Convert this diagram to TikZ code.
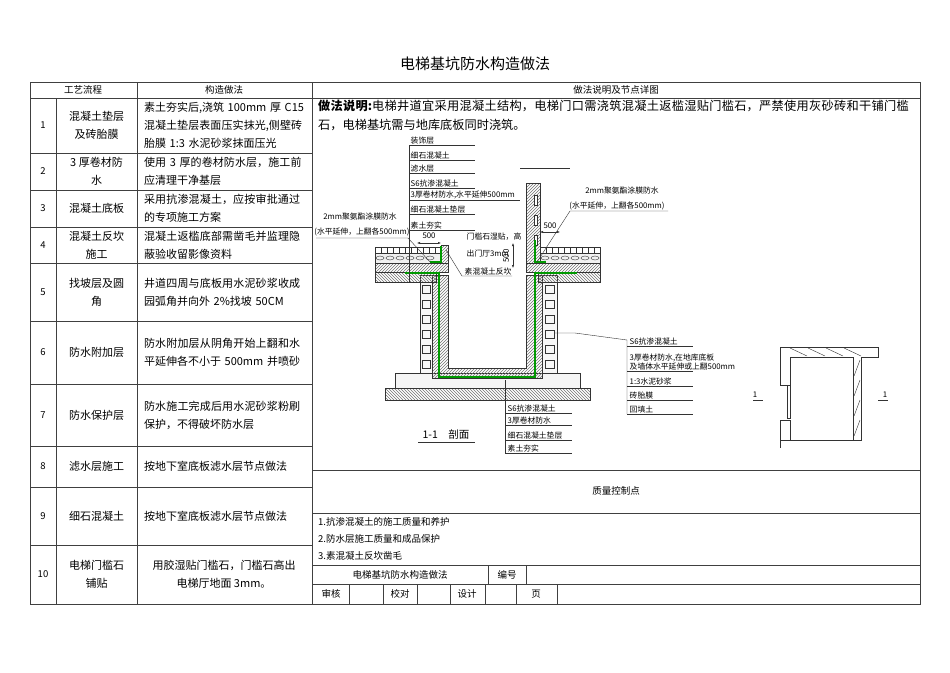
\documentclass[tikz,border=0pt]{standalone}
\usepackage{fontspec}
\setmainfont{Liberation Serif}
\newfontfamily\cjk{Noto Sans CJK SC}
\XeTeXlinebreaklocale "zh"
\XeTeXlinebreakskip=0pt plus 1pt
\usetikzlibrary{patterns,arrows.meta}
\begin{document}
\begin{tikzpicture}[x=1pt,y=-1pt,
  grid/.style={draw=black!75,line width=0.6pt},
  cell/.style={font=\cjk\fontsize{11}{18}\selectfont,align=center,inner sep=1pt},
  lcell/.style={font=\cjk\fontsize{11}{18}\selectfont,align=left,inner sep=1pt,text width=#1},
  small/.style={font=\cjk\fontsize{9.5}{18}\selectfont,inner sep=1pt},
  cad/.style={font=\cjk\fontsize{7.8}{9.5}\selectfont,inner sep=0.5pt},
  cl/.style={draw=black!80,line width=0.4pt},
  wp/.style={draw=green!60!black,line width=1.6pt},
  conc/.style={cl,pattern=north east lines,pattern color=black!55},
  earth/.style={cl,pattern=north west lines,pattern color=black!55},
  dims/.style={cl,{Latex[length=3pt]}-{Latex[length=3pt]}}]
\useasboundingbox (0,0) rectangle (950,672);
\fill[white] (0,0) rectangle (950,672);
\node[font=\cjk\fontsize{15}{18}\selectfont] (title) at (475,64) {电梯基坑防水构造做法};
% table grid
\draw[grid] (30,82) rectangle (920,604);
\draw[grid] (30,98) -- (920,98);
\draw[grid] (137,82) -- (137,604);
\draw[grid] (312,82) -- (312,604);
\draw[grid] (56,98) -- (56,604);
\foreach \y in {153,190,227,263,321,384,446,487,545} \draw[grid] (30,\y) -- (312,\y);
\draw[grid] (312,470) -- (920,470);
\draw[grid] (312,513) -- (920,513);
\draw[grid] (312,565) -- (920,565);
\draw[grid] (312,584) -- (920,584);
\draw[grid] (488,565) -- (488,584);
\draw[grid] (526,565) -- (526,584);
\foreach \x in {349,383,417,450,485,516,557} \draw[grid] (\x,584) -- (\x,604);
% headers
\node[small] (h1) at (83,90) {工艺流程};
\node[small] (h2) at (224,90) {构造做法};
\node[small] (h3) at (616,90) {做法说明及节点详图};
% rows
\foreach \n/\a/\b/\t/\c in {1/98/153/{混凝土垫层\\及砖胎膜}/{素土夯实后,浇筑 100mm 厚 C15 混凝土垫层表面压实抹光,侧壁砖胎膜 1:3 水泥砂浆抹面压光},
  2/153/190/{3 厚卷材防\\水}/{使用 3 厚的卷材防水层，施工前应清理干净基层},
  3/190/227/{混凝土底板}/{采用抗渗混凝土，应按审批通过的专项施工方案},
  4/227/263/{混凝土反坎\\施工}/{混凝土返槛底部需凿毛并监理隐蔽验收留影像资料},
  5/263/321/{找坡层及圆\\角}/{井道四周与底板用水泥砂浆收成园弧角并向外 2\%找坡 50CM},
  6/321/384/{防水附加层}/{防水附加层从阴角开始上翻和水平延伸各不小于 500mm 并喷砂},
  7/384/446/{防水保护层}/{防水施工完成后用水泥砂浆粉刷保护，不得破坏防水层},
  8/446/487/{滤水层施工}/{按地下室底板滤水层节点做法},
  9/487/545/{细石混凝土}/{按地下室底板滤水层节点做法}}{
  \node[small] (n\n) at (43,{(\a+\b)/2}) {\n};
  \node[cell] (p\n) at (96.5,{(\a+\b)/2}) {\t};
  \node[lcell=160pt] (d\n) at (224,{(\a+\b)/2}) {\c};
}
\node[small] (n10) at (43,574) {10};
\node[cell] (p10) at (96.5,574) {电梯门槛石\\铺贴};
\node[cell] (d10) at (224,574) {用胶湿贴门槛石，门槛石高出\\电梯厅地面 3mm。};
% description
\node[anchor=north west,font=\cjk\fontsize{12.2}{19}\selectfont,align=left,inner sep=1pt,text width=598pt] (desc) at (317,99) {\textbf{做法说明:}电梯井道宜采用混凝土结构，电梯门口需浇筑混凝土返槛湿贴门槛石，严禁使用灰砂砖和干铺门槛石，电梯基坑需与地库底板同时浇筑。};
% quality
\node[small] (q) at (616,491) {质量控制点};
\node[small,anchor=west] (q1) at (317,522) {1.抗渗混凝土的施工质量和养护};
\node[small,anchor=west] (q2) at (317,539) {2.防水层施工质量和成品保护};
\node[small,anchor=west] (q3) at (317,556) {3.素混凝土反坎凿毛};
\node[small] (t1) at (400,575) {电梯基坑防水构造做法};
\node[small] (t2) at (507,575) {编号};
\node[small] (t3) at (331,594) {审核};
\node[small] (t4) at (400,594) {校对};
\node[small] (t5) at (467,594) {设计};
\node[small] (t6) at (536,594) {页};
% ===== CAD section =====
\draw[earth] (385,388) rectangle (590,400);
\draw[cl,fill=black!4] (395,373) rectangle (580,388);
\draw[cl,fill=black!3] (420,275) rectangle (432,373);
\draw[cl,fill=black!3] (542,275) rectangle (557,373);
\foreach \y in {285,300,315,330,345,360} {\draw[cl] (422,\y) rectangle (430,\y+8); \draw[cl] (545,\y) rectangle (554,\y+8);}
\draw[conc] (432,275) -- (448,275) -- (448,368) -- (526,368) -- (526,275) -- (542,275) -- (542,378) -- (432,378) -- cycle;
% left floor
\draw[earth] (375,272) rectangle (436,282);
\draw[conc] (375,263) rectangle (448,272);
\draw[cl,fill=black!6] (375,253) rectangle (441,263);
\foreach \x in {380,390,...,435} \draw[cl] (\x,258) ellipse (4pt and 2pt);
\draw[cl] (375,247) rectangle (441,253);
\foreach \x in {381,387,...,440} \draw[cl] (\x,247) -- (\x,253);
\draw[conc] (441,245) rectangle (448,263);
% right floor
\draw[earth] (538,272) rectangle (600,282);
\draw[conc] (526,263) rectangle (600,272);
\draw[cl,fill=black!6] (540,253) rectangle (600,263);
\foreach \x in {545,555,...,595} \draw[cl] (\x,258) ellipse (4pt and 2pt);
\draw[cl] (540,247) rectangle (600,253);
\foreach \x in {546,552,...,598} \draw[cl] (\x,247) -- (\x,253);
% right upper wall
\draw[conc] (526,183) rectangle (540,263);
\foreach \y in {195,215,235} \draw[cl,fill=white] (534,\y) rectangle (537,\y+10);
\draw[cl] (520,168) -- (570,168);
% waterproof (green)
\draw[wp] (405,273) -- (439,273) -- (439,377) -- (535,377) -- (535,273) -- (577,273);
\draw[wp] (441,246) -- (441,262) -- (430,262);
\draw[wp] (535,240) -- (535,262) -- (546,262);
% left label stack
\foreach \y/\t in {145/装饰层,160/细石混凝土,173/滤水层,188/S6抗渗混凝土,200/{3厚卷材防水,水平延伸500mm},214/细石混凝土垫层,230/素土夯实}
  \node[cad,anchor=south west] at (410,\y) {\t};
\foreach \y/\w in {145/475,160/475,173/475,188/475,200/520,214/475,230/475} \draw[cl] (409,\y) -- (\w,\y);
\draw[cl] (409,145) -- (409,282);
\coordinate (c1) at (430,262);
\node[cad,anchor=south] (l1) at (360,221) {2mm聚氨酯涂膜防水};
\node[cad,anchor=south] (l1b) at (362,237) {(水平延伸，上翻各500mm)};
\draw[cl] (316,238) -- (408,238) -- (c1);
\draw[dims] (417,243) -- (441,243);
\node[cad] at (429,236) {500};
\node[cad,anchor=south west] (l2) at (466,241) {门槛石湿贴，高};
\node[cad,anchor=south west] (l2b) at (466,258) {出门厅3mm};
\node[cad,anchor=south west] (l3) at (464,276) {素混凝土反坎};
\coordinate (c2) at (446,250);
\draw[cl] (512,276) -- (462,276) -- (c2);
\draw[dims] (513,243) -- (513,268);
\node[cad,rotate=90] at (506,256) {500};
\coordinate (c3) at (537,262);
\node[cad,anchor=south] (r1) at (622,195) {2mm聚氨酯涂膜防水};
\node[cad,anchor=south] (r1b) at (617,211) {(水平延伸，上翻各500mm)};
\draw[cl] (668,211) -- (570,211) -- (c3);
\draw[dims] (540,232) -- (560,232);
\node[cad] at (550,226) {500};
% right label stack
\coordinate (c4) at (555,333);
\draw[cl] (c4) -- (575,333) -- (627,340) -- (627,414);
\foreach \y/\t in {346/S6抗渗混凝土,386/1:3水泥砂浆,400/砖胎膜,414/回填土}
  \node[cad,anchor=south west] at (629,\y) {\t};
\node[cad,anchor=south west,align=left] at (629,371) {3厚卷材防水,在地库底板\\及墙体水平延伸或上翻500mm};
\foreach \y in {346,371,386,400,414} \draw[cl] (627,\y) -- (693,\y);
% bottom label stack
\draw[cl] (505,380) -- (505,453);
\foreach \y/\t in {413/S6抗渗混凝土,425/3厚卷材防水,440/细石混凝土垫层,453/素土夯实}
  {\node[cad,anchor=south west] at (507,\y) {\t}; \draw[cl] (505,\y) -- (572,\y);}
\node[font=\cjk\fontsize{10.5}{10}\selectfont] (sec) at (446,434) {1-1\quad 剖面};
\draw[cl] (418,442) -- (475,442);
% small plan
\draw[cl] (780,347) -- (878,347) -- (878,357) -- (861,357) -- (861,440) -- (853,440) -- (853,357) -- (790,357) -- (790,385) -- (780,385) -- cycle;
\draw[cl] (780,420) -- (790,420) -- (790,440) -- (780,440) -- cycle;
\draw[cl] (780,440) -- (861,440);
\draw[cl] (780,440) -- (780,448);
\draw[cl] (787,385) rectangle (790,418);
\foreach \x in {790,808,826,844} \draw[cl] (\x,348) -- (\x+17,356);
\foreach \y in {360,380,400,420} \draw[cl] (854,\y+16) -- (860,\y);
\draw[cl,line width=1pt] (753,400) -- (763,400);
\draw[cl,line width=1pt] (878,400) -- (888,400);
\node[cad] at (755,395) {1};
\node[cad] at (885,395) {1};
\end{tikzpicture}
\end{document}
